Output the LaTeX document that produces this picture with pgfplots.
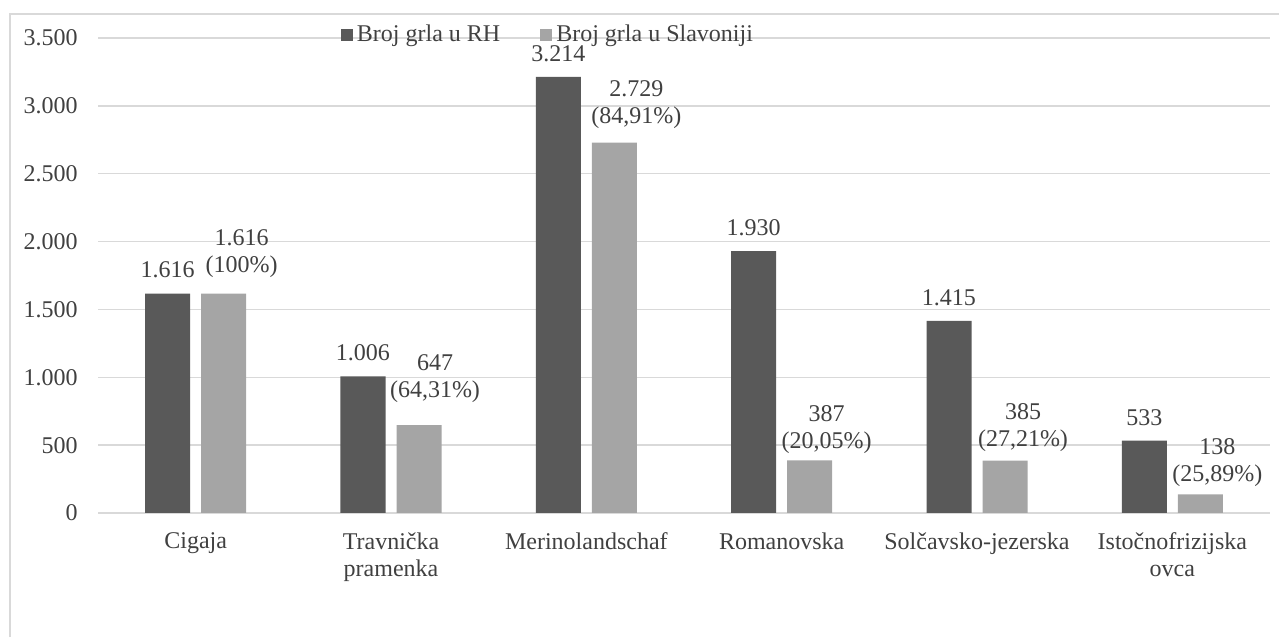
\documentclass[border=0pt]{standalone}
\usepackage{fontspec}
\setmainfont{Liberation Serif}
\usepackage{pgfplots}
\usepackage{pgfplotstable}
\pgfplotsset{compat=1.18}
\definecolor{darkbar}{HTML}{595959}
\definecolor{lightbar}{HTML}{A5A5A5}
\definecolor{gridc}{HTML}{D9D9D9}
\definecolor{txt}{HTML}{404040}

\pgfplotstableread{
x y lab
0 1616 1.616
1 1006 1.006
2 3214 3.214
3 1930 1.930
4 1415 1.415
5 533 533
}\rh

\pgfplotstableread{
x y lab dx dy
0 1616 {1.616\\(100\%)} 9 7.9
1 647 {647\\(64,31\%)} 8 10.9
2 2729 {2.729\\(84,91\%)} 11 6.9
3 387 {387\\(20,05\%)} 8.5 3.2
4 385 {385\\(27,21\%)} 9 4.4
5 138 {138\\(25,89\%)} 8.5 3.7
}\sl

\begin{document}
\begin{tikzpicture}[font=\fontsize{12pt}{13.5pt}\selectfont]
\useasboundingbox (0,0) rectangle (639.5pt,318.5pt);
\draw[gridc, line width=0.85pt] (5pt,0) -- (5pt,311.5pt) -- (640pt,311.5pt);
\begin{axis}[
  at={(49pt,62pt)}, anchor=south west,
  scale only axis, width=586pt, height=237.5pt,
  xmin=-0.5, xmax=5.5, ymin=0, ymax=3500,
  ytick={0,500,...,3500},
  xtick={0,...,5},
  xticklabels={Cigaja, {Travnička\\pramenka}, Merinolandschaf, Romanovska, Solčavsko-jezerska, {Istočnofrizijska\\ovca}},
  xticklabel style={align=center, text=txt, inner sep=0pt, anchor=north, yshift=-9.5pt},
  yticklabel style={text=txt, inner sep=0pt, anchor=east, xshift=-10pt},
  /pgf/number format/1000 sep={.},
  /pgf/number format/assume math mode=true,
  axis lines*=left,
  y axis line style={draw=none},
  x axis line style={gridc, line width=0.85pt},
  major tick length=0pt,
  ymajorgrids,
  grid style={gridc, line width=0.75pt},
  ybar=5.5pt, bar width=22.5pt,
  legend columns=2,
  legend style={at={(0.3848,1.0063)}, anchor=center, draw=none, fill=none, text=txt, inner sep=0pt,
    /tikz/every even column/.append style={column sep=18pt}},
  legend image code/.code={\fill[#1] (0pt,-3pt) rectangle (6pt,3pt);},
]
\addplot[fill=darkbar, draw=none, nodes near coords, point meta=explicit symbolic,
  every node near coord/.append style={anchor=south, inner sep=0pt, yshift=7.5pt, text=txt}]
  table[x=x, y=y, meta=lab] {\rh};
\addplot[fill=lightbar, draw=none, nodes near coords, point meta=explicit symbolic,
  visualization depends on={\thisrow{dx} \as \dx},
  visualization depends on={\thisrow{dy} \as \dy},
  every node near coord/.append style={anchor=south, inner sep=0pt, align=center, xshift=\dx pt, yshift=\dy pt, text=txt}]
  table[x=x, y=y, meta=lab] {\sl};
\legend{Broj grla u RH, Broj grla u Slavoniji}
\end{axis}
\end{tikzpicture}
\end{document}
